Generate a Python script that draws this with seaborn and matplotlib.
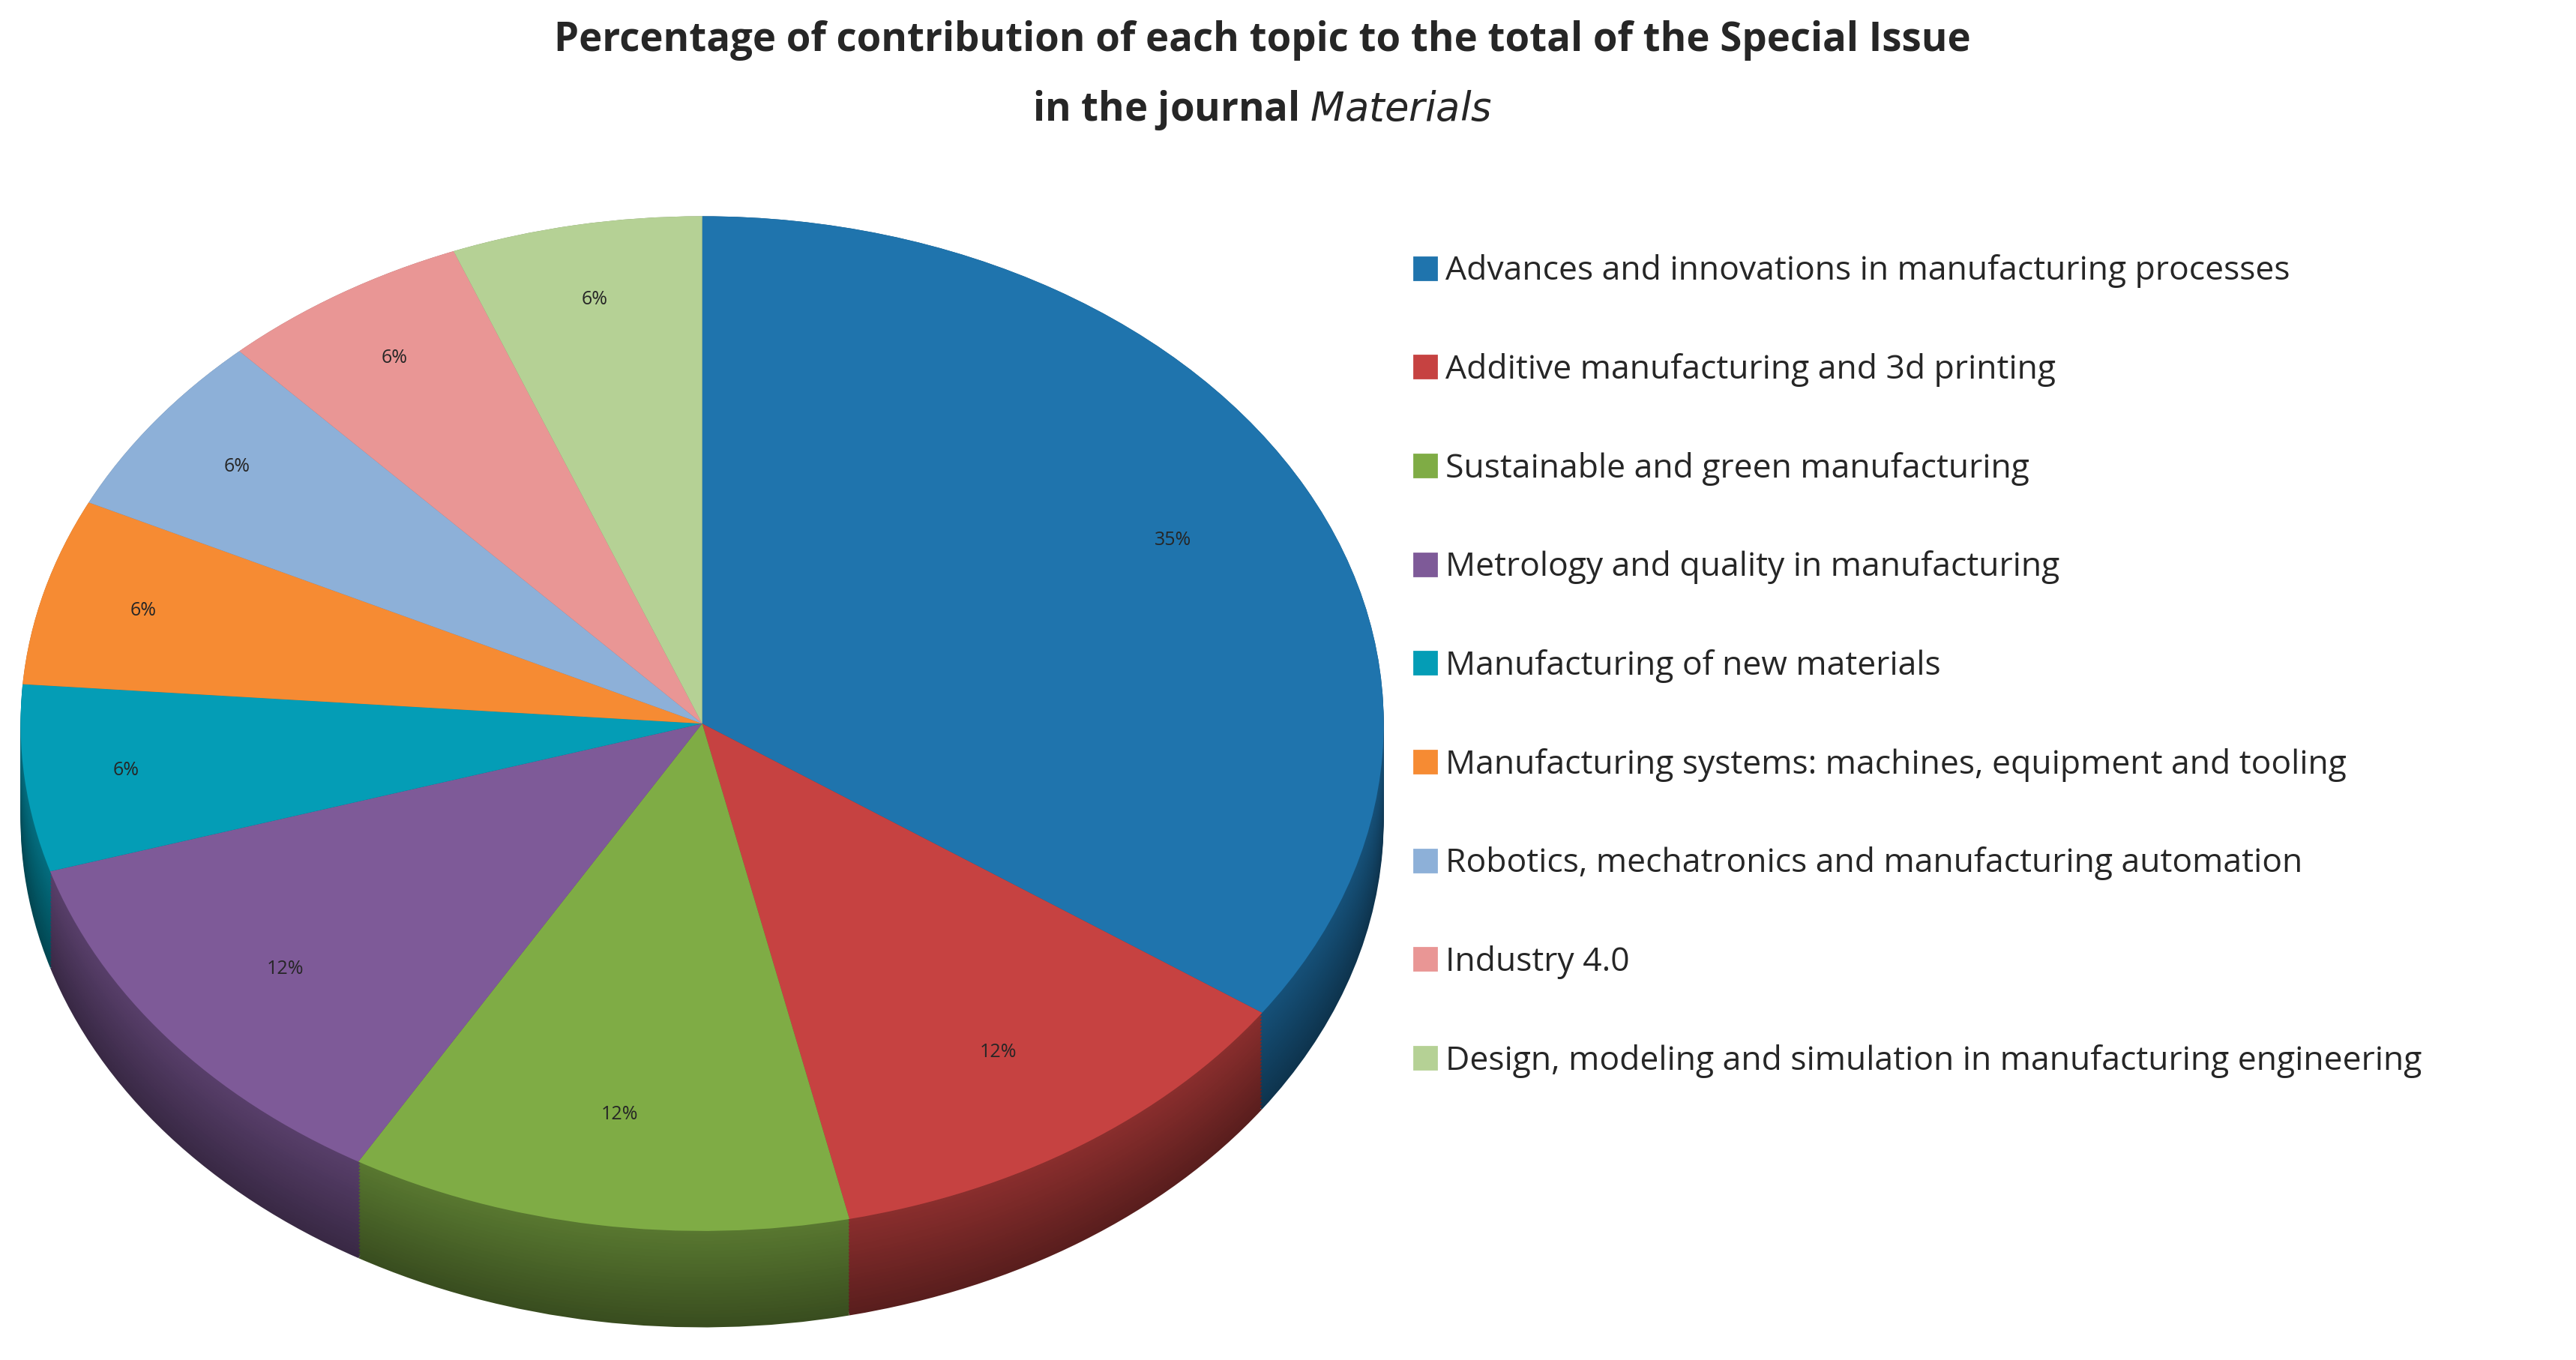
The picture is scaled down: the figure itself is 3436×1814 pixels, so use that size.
import matplotlib
matplotlib.use("Agg")
import matplotlib.pyplot as plt
import seaborn as sns
import numpy as np
from matplotlib.lines import Line2D

topics = ["Advances and innovations in manufacturing processes",
          "Additive manufacturing and 3d printing",
          "Sustainable and green manufacturing",
          "Metrology and quality in manufacturing",
          "Manufacturing of new materials",
          "Manufacturing systems: machines, equipment and tooling",
          "Robotics, mechatronics and manufacturing automation",
          "Industry 4.0",
          "Design, modeling and simulation in manufacturing engineering"]
shares = [35, 12, 12, 12, 6, 6, 6, 6, 6]
labels = ["35%", "12%", "12%", "12%", "6%", "6%", "6%", "6%", "6%"]
colors = ["#1F74AD", "#C64241", "#7FAC45", "#7E5A98", "#049DB6",
          "#F68B33", "#8DB0D8", "#E99695", "#B5D195"]

sns.set_theme(style="white")
plt.rcParams['font.family'] = ['Open Sans', 'DejaVu Sans']

fig = plt.figure(figsize=(17.185, 9.07), dpi=200)
fig.text(0.49, 0.985, "Percentage of contribution of each topic to the total of the Special Issue",
         ha="center", va="top", fontsize=19, fontweight="bold")
fig.text(0.49, 0.935, "in the journal $\\bf{\\it{Materials}}$",
         ha="center", va="top", fontsize=19, fontweight="bold")

ax = fig.add_axes([0.008, 0.024, 0.529, 0.817])

def darken(c, f):
    r, g, b = matplotlib.colors.to_rgb(c)
    return (r * f, g * f, b * f)

total = sum(shares)
depth = 0.19
for d in np.linspace(depth, 0.0, 30):
    ax.pie(shares, colors=[darken(c, 0.45 + 0.25 * (1 - d / depth)) for c in colors],
           startangle=90, counterclock=False, radius=1.0, center=(0, -d),
           wedgeprops=dict(linewidth=0))
ax.pie(shares, colors=colors, startangle=90, counterclock=False, radius=1.0,
       wedgeprops=dict(linewidth=0))
ax.set_aspect("auto")
ax.set_xlim(-1.0, 1.0)
ax.set_ylim(-1.0 - depth, 1.0)
ax.axis("off")

cum = 0
for s, lab in zip(shares, labels):
    mid = np.deg2rad(90 - (cum + s / 2) / total * 360)
    cum += s
    r = 0.78 if s > 10 else 0.85
    ax.text(r * np.cos(mid), r * np.sin(mid), lab, ha="center", va="center", fontsize=9)

handles = [Line2D([0], [0], marker="s", linestyle="", markersize=11, markerfacecolor=c,
                  markeredgecolor=c) for c in colors]
fig.legend(handles, topics, loc="upper left", bbox_to_anchor=(0.535, 0.835), frameon=False,
           fontsize=16, labelspacing=1.95, handletextpad=0.1, handlelength=1.0)
fig.savefig("out.png", dpi=200)
